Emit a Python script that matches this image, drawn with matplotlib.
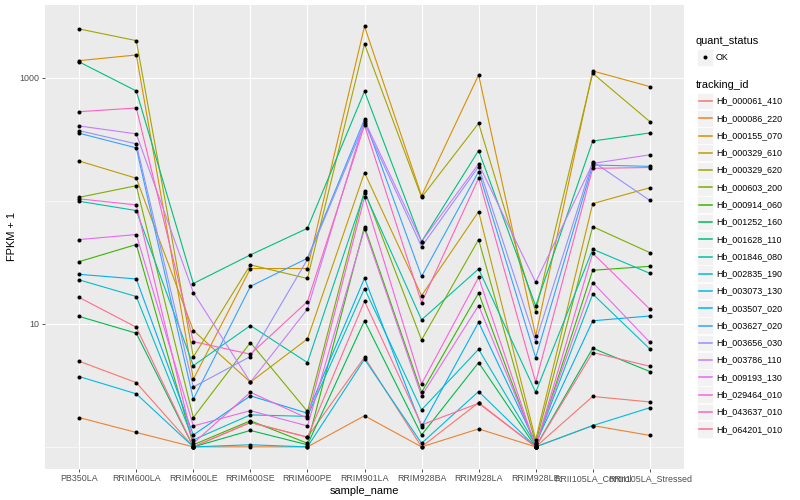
import matplotlib
matplotlib.use("Agg")
import matplotlib.pyplot as plt
from matplotlib.lines import Line2D
from matplotlib.patches import Rectangle
from matplotlib.ticker import FixedLocator, NullFormatter

plt.rcParams['font.family'] = ['Liberation Sans', 'DejaVu Sans']

# samples on the x axis
samples = ["PB350LA", "RRIM600LA", "RRIM600LE", "RRIM600SE", "RRIM600PE",
           "RRIM901LA", "RRIM928BA", "RRIM928LA", "RRIM928LE",
           "RRII105LA_Control", "RRII105LA_Stressed"]

tracking_ids = ["Hb_000061_410", "Hb_000086_220", "Hb_000155_070", "Hb_000329_610",
                "Hb_000329_620", "Hb_000603_200", "Hb_000914_060", "Hb_001252_160",
                "Hb_001628_110", "Hb_001846_080", "Hb_002835_190", "Hb_003073_130",
                "Hb_003507_020", "Hb_003627_020", "Hb_003656_030", "Hb_003786_110",
                "Hb_009193_130", "Hb_029464_010", "Hb_043637_010", "Hb_064201_010"]

# ggplot default hue palette for 20 levels
colors = ["#F8766D", "#EA8331", "#D89000", "#C09B00", "#A3A500", "#7CAE00",
          "#39B600", "#00BB4E", "#00BF7D", "#00C1A3", "#00BFC4", "#00BAE0",
          "#00B0F6", "#35A2FF", "#9590FF", "#C77CFF", "#E76BF3", "#FA62DB",
          "#FF62BC", "#FF6C91"]

# FPKM + 1, one list per gene, in sample order
hb_000061_410 = [4.97, 3.33, 1.0, 1.58, 1.20, 5.36, 1.0, 2.29, 1.0, 2.57, 2.32]
hb_000086_220 = [1.73, 1.31, 1.0, 1.0, 1.0, 1.79, 1.0, 1.40, 1.0, 1.49, 1.24]
hb_000155_070 = [1383, 1538, 3.55, 28.2, 28.2, 2630, 110, 1058, 7.99, 1140, 851]
hb_000329_610 = [211, 153, 8.83, 3.36, 7.55, 170, 17.0, 81.9, 1.14, 95.1, 128]
hb_000329_620 = [2503, 2012, 5.39, 30.2, 23.4, 1890, 107, 428, 12.6, 1091, 442]
hb_000603_200 = [107, 133, 1.73, 7.05, 1.94, 121, 7.41, 48.5, 1.07, 61.8, 38.0]
hb_000914_060 = [32.1, 44.2, 1.04, 1.63, 1.07, 61.8, 2.77, 17.8, 1.0, 27.3, 29.4]
hb_001252_160 = [11.5, 8.40, 1.0, 1.36, 1.04, 10.6, 1.25, 4.85, 1.0, 6.34, 4.10]
hb_001628_110 = [1349, 784, 21.3, 36.4, 59.9, 779, 46.7, 257, 14.0, 307, 357]
hb_001846_080 = [99.4, 83.5, 4.58, 9.69, 4.85, 117, 10.8, 28.0, 2.78, 40.5, 25.8]
hb_002835_190 = [22.8, 16.7, 1.14, 1.82, 1.77, 19.4, 2.00, 6.22, 1.04, 17.5, 6.26]
hb_003073_130 = [3.73, 2.70, 1.0, 1.04, 1.0, 5.16, 1.07, 2.82, 1.0, 1.49, 2.08]
hb_003507_020 = [25.3, 23.2, 1.25, 2.60, 1.88, 23.5, 1.46, 10.3, 1.07, 10.6, 11.6]
hb_003627_020 = [355, 270, 2.44, 20.2, 34.2, 461, 24.3, 173, 5.32, 196, 191]
hb_003656_030 = [373, 291, 3.07, 5.43, 33.5, 428, 42.5, 190, 7.18, 209, 101]
hb_003786_110 = [407, 351, 18.0, 3.36, 13.2, 450, 46.7, 200, 21.8, 202, 237]
hb_009193_130 = [48.5, 53.3, 1.48, 1.97, 1.48, 58.9, 2.60, 14.1, 1.04, 21.7, 7.10]
hb_029464_010 = [104, 92.8, 1.07, 2.78, 1.71, 107, 3.25, 23.9, 1.0, 37.6, 13.2]
hb_043637_010 = [532, 570, 7.18, 5.67, 15.2, 412, 14.9, 153, 3.36, 184, 187]
hb_064201_010 = [16.4, 9.40, 1.0, 1.58, 1.20, 15.3, 1.51, 2.26, 1.0, 5.85, 4.53]

series = [hb_000061_410, hb_000086_220, hb_000155_070, hb_000329_610, hb_000329_620,
          hb_000603_200, hb_000914_060, hb_001252_160, hb_001628_110, hb_001846_080,
          hb_002835_190, hb_003073_130, hb_003507_020, hb_003627_020, hb_003656_030,
          hb_003786_110, hb_009193_130, hb_029464_010, hb_043637_010, hb_064201_010]

W, H = 800, 500
fig = plt.figure(figsize=(8, 5), dpi=100)
# panel: x 45..684, y 5..468 (pixels)
ax = fig.add_axes([45 / W, 1 - 468.5 / H, (684 - 45) / W, (468.5 - 5) / H])
ax.set_facecolor("#EBEBEB")
for s in ax.spines.values():
    s.set_visible(False)

xs = list(range(len(samples)))
for vals, c in zip(series, colors):
    ax.plot(xs, vals, color=c, lw=0.8, zorder=3)
for vals in series:
    ax.plot(xs, vals, 'o', color='black', ms=2.9, mew=0, zorder=4)

ax.set_yscale('log')
ax.set_ylim(0.667, 3920)
ax.set_xlim(-0.6, 10.6)
ax.yaxis.set_major_locator(FixedLocator([10, 1000]))
ax.yaxis.set_minor_locator(FixedLocator([1, 100]))
ax.yaxis.set_minor_formatter(NullFormatter())
ax.set_yticklabels(["10", "1000"])
ax.set_xticks(xs)
ax.set_xticklabels(samples)
ax.grid(which='major', color='white', lw=0.8)
ax.grid(which='minor', axis='y', color='white', lw=0.4)
ax.set_axisbelow(True)
ax.tick_params(which='major', length=2.5, width=0.6, color='#333333',
               labelsize=6.4, labelcolor='#4D4D4D', pad=1.5)
ax.tick_params(which='minor', length=0)

ax.set_xlabel("sample_name", fontsize=7.9, labelpad=2)
ax.set_ylabel("FPKM + 1", fontsize=7.9, labelpad=2)


# legend, drawn in pixel coords
def fx(px):
    return px / W


def fy(py):
    return 1 - py / H


fig.text(fx(696), fy(41), "quant_status", fontsize=7.9, va='center', ha='left')
fig.add_artist(Rectangle((fx(696.5), fy(65.5)), 16.5 / W, 16.5 / H,
                         transform=fig.transFigure, facecolor='#F2F2F2',
                         edgecolor='white', lw=0.5))
fig.add_artist(Line2D([fx(704.8)], [fy(57)], marker='o', ms=2.9, mew=0,
                      color='black', transform=fig.transFigure))
fig.text(fx(716), fy(57), "OK", fontsize=6.4, va='center', ha='left')

fig.text(fx(696), fy(85), "tracking_id", fontsize=7.9, va='center', ha='left')
for i, (name, c) in enumerate(zip(tracking_ids, colors)):
    cy = 101 + i * 17.28
    fig.add_artist(Rectangle((fx(696.5), fy(cy + 8.4)), 16.5 / W, 16.8 / H,
                             transform=fig.transFigure, facecolor='#F2F2F2',
                             edgecolor='white', lw=0.5))
    fig.add_artist(Line2D([fx(698.5), fx(711.5)], [fy(cy), fy(cy)], color=c,
                          lw=1.1, transform=fig.transFigure))
    fig.text(fx(716), fy(cy), name, fontsize=6.4, va='center', ha='left')

fig.savefig("out.png", dpi=100)
